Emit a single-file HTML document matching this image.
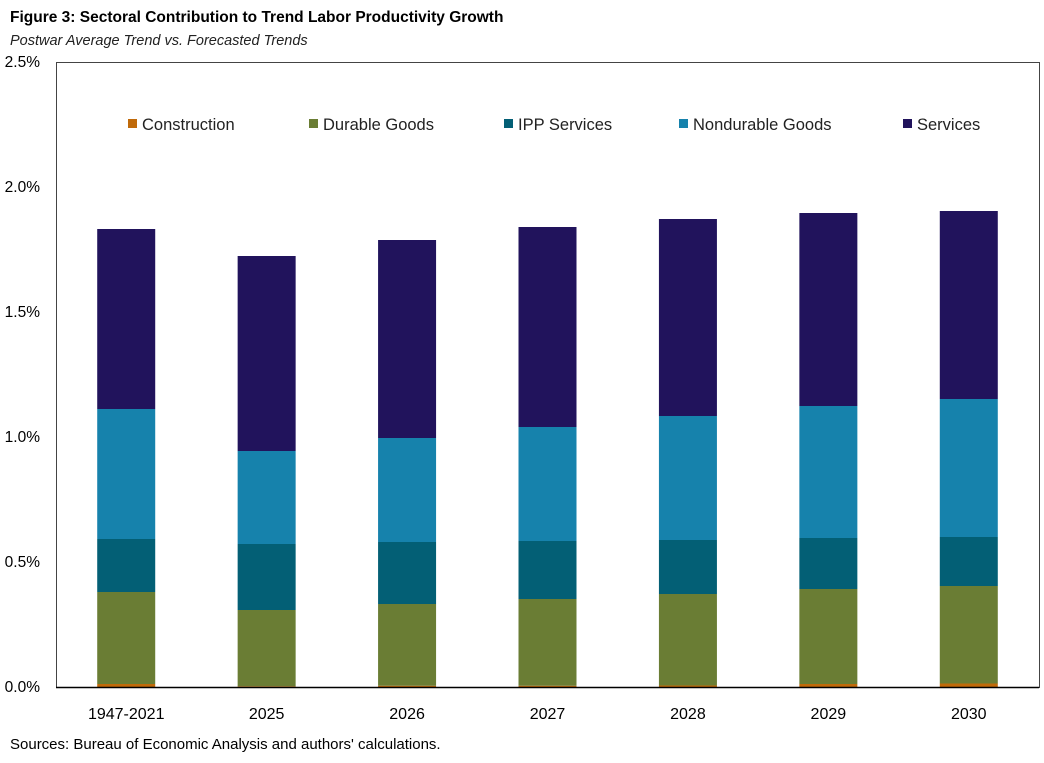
<!DOCTYPE html>
<html><head><meta charset="utf-8"><style>
body{margin:0;background:#fff;font-family:"Liberation Sans",sans-serif}
</style></head><body>
<svg width="1044" height="758" xmlns="http://www.w3.org/2000/svg">
<text x="10" y="22" font-size="15.5" font-weight="bold" fill="#000">Figure 3: Sectoral Contribution to Trend Labor Productivity Growth</text>
<text x="10" y="45" font-size="14.5" font-style="italic" fill="#222">Postwar Average Trend vs. Forecasted Trends</text>
<rect x="56.5" y="62.5" width="983" height="625" fill="none" stroke="#444" stroke-width="1"/>
<g id="yaxis"></g><g id="bars"></g><g id="xaxis"></g><g id="legend"></g>
<text x="10" y="749" font-size="15" fill="#000">Sources: Bureau of Economic Analysis and authors' calculations.</text>
</svg>
<script>
const categories=["1947-2021","2025","2026","2027","2028","2029","2030"];
const construction=[0.012,0.003,0.005,0.005,0.006,0.012,0.014];
const durable=[0.368,0.305,0.327,0.347,0.366,0.380,0.390];
const ipp=[0.212,0.264,0.248,0.232,0.216,0.204,0.196];
const nondurable=[0.520,0.372,0.416,0.456,0.496,0.528,0.552];
const services=[0.720,0.780,0.792,0.800,0.788,0.772,0.752];
const yTicks=[0,0.5,1.0,1.5,2.0,2.5];
const seriesNames=["Construction","Durable Goods","IPP Services","Nondurable Goods","Services"];
const seriesColors=["#c06a0a","#6a7d34","#035f75","#1682ac","#21135c"];
const NS="http://www.w3.org/2000/svg";
const L=56,R=1039,T=62,B=687;
const y=v=>B-(v/2.5)*(B-T);
const band=(R-L)/categories.length;
const xc=i=>L+band*(i+0.5);
function mk(tag,attrs,parent){const e=document.createElementNS(NS,tag);for(const k in attrs)e.setAttribute(k,attrs[k]);parent.appendChild(e);return e;}
const ya=document.getElementById('yaxis');
yTicks.forEach(t=>{const e=mk('text',{x:L-16,y:y(t)+5,'font-size':15.5,'text-anchor':'end',fill:'#000'},ya);


e.textContent=t.toFixed(1)+'%';});
const bg=document.getElementById('bars');
const series=[construction,durable,ipp,nondurable,services];
const keys=["construction","durable","ipp","nondurable","services"];
categories.forEach((c,i)=>{let cum=0;const w=58;
series.forEach((s,j)=>{const v=s[i];const r=mk('rect',{x:xc(i)-w/2,y:y(cum+v),width:w,height:y(cum)-y(cum+v),fill:seriesColors[j]},bg);


cum+=v;});
const t=mk('text',{x:xc(i),y:719,'font-size':16,'text-anchor':'middle',fill:'#000'},document.getElementById('xaxis'));


t.textContent=c;});
mk('line',{x1:L,x2:R,y1:B+0.5,y2:B+0.5,stroke:'#000','stroke-width':1.5},document.getElementById('xaxis'));
const lg=document.getElementById('legend');
const lx=[128,309,504,679,903];
seriesNames.forEach((n,j)=>{const g=mk('g',{},lg);


mk('rect',{x:lx[j],y:119,width:9,height:9,fill:seriesColors[j]},g);
const t=mk('text',{x:lx[j]+14,y:130,'font-size':16.5,fill:'#222'},g);t.textContent=n;});
</script>
</body></html>
